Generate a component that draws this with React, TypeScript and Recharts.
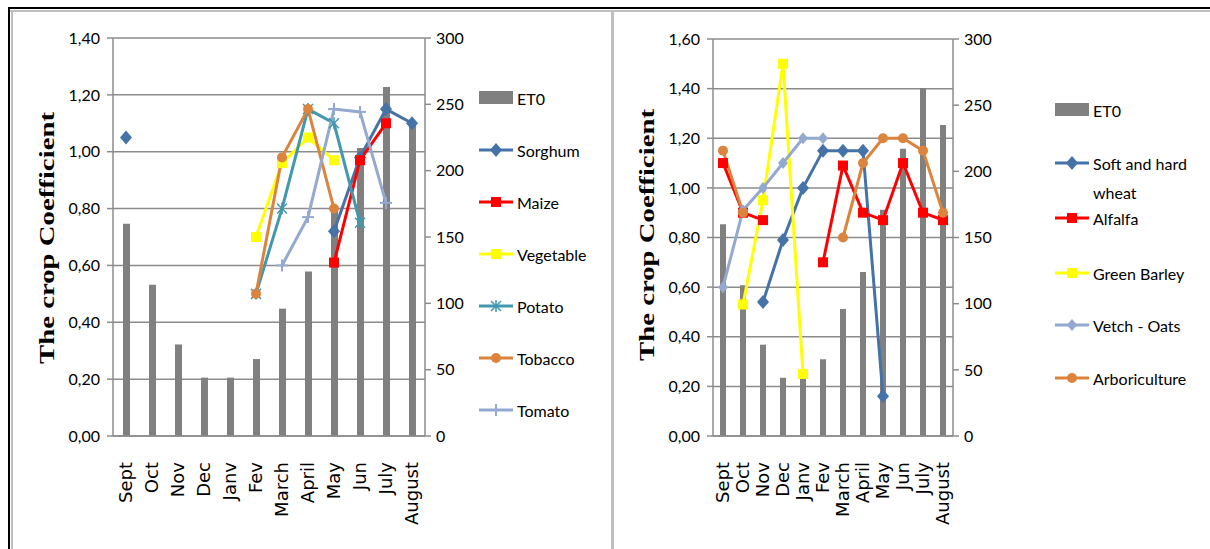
import React from "react";
import { ComposedChart, Bar, Line, XAxis, YAxis, CartesianGrid } from "recharts";

const months = ["Sept", "Oct", "Nov", "Dec", "Janv", "Fev", "March", "April", "May", "Jun", "July", "August"];

// reference evapotranspiration (mm)
const eto = [160, 114, 69, 44, 44, 58, 96, 124, 171, 217, 263, 235];

// crop coefficients, left panel
const sorghum = [1.05, null, null, null, null, null, null, null, 0.72, 0.98, 1.15, 1.1];
const maize = [null, null, null, null, null, null, null, null, 0.61, 0.97, 1.1, null];
const vegetable = [null, null, null, null, null, 0.7, 0.96, 1.05, 0.97, null, null, null];
const potato = [null, null, null, null, null, 0.5, 0.8, 1.15, 1.1, 0.75, null, null];
const tobacco = [null, null, null, null, null, 0.5, 0.98, 1.15, 0.8, null, null, null];
const tomato = [null, null, null, null, null, null, 0.6, 0.77, 1.15, 1.14, 0.82, null];

// crop coefficients, right panel
const wheat = [null, null, 0.54, 0.79, 1.0, 1.15, 1.15, 1.15, 0.16, null, null, null];
const alfalfa = [1.1, 0.9, 0.87, null, null, 0.7, 1.09, 0.9, 0.87, 1.1, 0.9, 0.87];
const greenBarley = [null, 0.53, 0.95, 1.5, 0.25, null, null, null, null, null, null, null];
const vetchOats = [0.6, 0.91, 1.0, 1.1, 1.2, 1.2, null, null, null, null, null, null];
const arboriculture = [1.15, 0.9, null, null, null, null, 0.8, 1.1, 1.2, 1.2, 1.15, 0.9];

const kcTicksLeft = [0, 0.2, 0.4, 0.6, 0.8, 1.0, 1.2, 1.4];
const kcTicksRight = [0, 0.2, 0.4, 0.6, 0.8, 1.0, 1.2, 1.4, 1.6];
const etoTicks = [0, 50, 100, 150, 200, 250, 300];

const SANS = 'Lato, "Liberation Sans", sans-serif';
const GRID = "#8c8c8c";
const BLUE = "#4572A7";
const RED = "#FF0000";
const YELLOW = "#FFFF00";
const TEAL = "#4198AF";
const ORANGE = "#DB843D";
const LIGHT = "#93A9CF";

type Shape = "diamond" | "square" | "asterisk" | "circle" | "plus" | "smallDiamond";

function Marker({ shape, color, cx, cy }: { shape: Shape; color: string; cx: number; cy: number }) {
  switch (shape) {
    case "diamond":
      return <polygon points={`${cx},${cy - 7} ${cx + 6},${cy} ${cx},${cy + 7} ${cx - 6},${cy}`} fill={color} />;
    case "smallDiamond":
      return <polygon points={`${cx},${cy - 6} ${cx + 5},${cy} ${cx},${cy + 6} ${cx - 5},${cy}`} fill={color} />;
    case "square":
      return <rect x={cx - 5} y={cy - 5} width={10} height={10} fill={color} />;
    case "circle":
      return <circle cx={cx} cy={cy} r={5} fill={color} />;
    case "plus":
      return (
        <g stroke={color} strokeWidth={2}>
          <line x1={cx - 6} y1={cy} x2={cx + 6} y2={cy} />
          <line x1={cx} y1={cy - 6} x2={cx} y2={cy + 6} />
        </g>
      );
    case "asterisk":
      return (
        <g stroke={color} strokeWidth={1.5}>
          <line x1={cx - 5} y1={cy - 5} x2={cx + 5} y2={cy + 5} />
          <line x1={cx - 5} y1={cy + 5} x2={cx + 5} y2={cy - 5} />
          <line x1={cx} y1={cy - 6} x2={cx} y2={cy + 6} />
        </g>
      );
  }
}

const makeDot = (shape: Shape, color: string) => (props: any) => {
  const { cx, cy, index, value } = props;
  if (value == null || cy == null || Number.isNaN(cy)) return <g key={index} />;
  return (
    <g key={index}>
      <Marker shape={shape} color={color} cx={cx} cy={cy} />
    </g>
  );
};

const MonthTick = ({ x, y, payload }: any) => (
  <text
    x={x}
    y={y}
    transform={`rotate(-90 ${x} ${y})`}
    textAnchor="end"
    dy="0.36em"
    fontFamily='"DejaVu Sans", sans-serif'
    fontSize={18}
    fill="#000"
  >
    {payload.value}
  </text>
);

const fmtKc = (v: number) => v.toFixed(2).replace(".", ",");

interface SeriesDef {
  name: string;
  key: string;
  values: (number | null)[];
  color: string;
  shape: Shape;
}

const leftSeries: SeriesDef[] = [
  { name: "Sorghum", key: "sorghum", values: sorghum, color: BLUE, shape: "diamond" },
  { name: "Maize", key: "maize", values: maize, color: RED, shape: "square" },
  { name: "Vegetable", key: "vegetable", values: vegetable, color: YELLOW, shape: "square" },
  { name: "Potato", key: "potato", values: potato, color: TEAL, shape: "asterisk" },
  { name: "Tobacco", key: "tobacco", values: tobacco, color: ORANGE, shape: "circle" },
  { name: "Tomato", key: "tomato", values: tomato, color: LIGHT, shape: "plus" },
];

const rightSeries: SeriesDef[] = [
  { name: "Soft and hard wheat", key: "wheat", values: wheat, color: BLUE, shape: "diamond" },
  { name: "Alfalfa", key: "alfalfa", values: alfalfa, color: RED, shape: "square" },
  { name: "Green Barley", key: "greenBarley", values: greenBarley, color: YELLOW, shape: "square" },
  { name: "Vetch - Oats", key: "vetchOats", values: vetchOats, color: LIGHT, shape: "smallDiamond" },
  { name: "Arboriculture", key: "arboriculture", values: arboriculture, color: ORANGE, shape: "circle" },
];

function buildRows(series: SeriesDef[]) {
  return months.map((m, i) => {
    const row: Record<string, any> = { month: m, eto: eto[i] };
    series.forEach((s) => (row[s.key] = s.values[i]));
    return row;
  });
}

interface PanelProps {
  left: number;
  top: number;
  marginRight: number;
  kcMax: number;
  kcTicks: number[];
  barSize: number;
  series: SeriesDef[];
}

function Panel({ left, top, marginRight, kcMax, kcTicks, barSize, series }: PanelProps) {
  return (
    <div style={{ position: "absolute", left, top: 0 }}>
      <ComposedChart
        width={610}
        height={549}
        data={buildRows(series)}
        margin={{ top, right: marginRight, bottom: 0, left: 0 }}
      >
        <CartesianGrid yAxisId="kc" vertical={false} stroke={GRID} strokeWidth={1.5} />
        <XAxis
          dataKey="month"
          height={113}
          tickSize={0}
          tickMargin={26}
          tick={<MonthTick />}
          interval={0}
          axisLine={{ stroke: GRID, strokeWidth: 1.5 }}
        />
        <YAxis
          yAxisId="kc"
          orientation="left"
          width={113}
          domain={[0, kcMax]}
          ticks={kcTicks}
          tickFormatter={fmtKc}
          tickSize={6}
          tickMargin={7}
          axisLine={{ stroke: GRID, strokeWidth: 1.5 }}
          tickLine={{ stroke: GRID, strokeWidth: 1.5 }}
          tick={{ fontFamily: SANS, fontSize: 16, fill: "#000" }}
          interval={0}
        />
        <YAxis
          yAxisId="eto"
          orientation="right"
          width={45}
          domain={[0, 300]}
          ticks={etoTicks}
          tickSize={6}
          tickMargin={5}
          axisLine={{ stroke: GRID, strokeWidth: 1.5 }}
          tickLine={{ stroke: GRID, strokeWidth: 1.5 }}
          tick={{ fontFamily: SANS, fontSize: 16, fill: "#000" }}
          interval={0}
        />
        <Bar yAxisId="eto" dataKey="eto" name="ET0" fill="#808080" barSize={barSize} isAnimationActive={false} />
        {series.map((s) => (
          <Line
            key={s.key}
            yAxisId="kc"
            type="linear"
            dataKey={s.key}
            name={s.name}
            stroke={s.color}
            strokeWidth={3}
            dot={makeDot(s.shape, s.color)}
            activeDot={false}
            isAnimationActive={false}
          />
        ))}
      </ComposedChart>
    </div>
  );
}

interface LegendRow {
  label: string;
  y: number;
  series?: SeriesDef;
}

function LegendBlock({ x, rows }: { x: number; rows: LegendRow[] }) {
  return (
    <>
      {rows.map((r) => {
        const hasIcon = !!r.series || r.label === "ET0";
        return (
          <div
            key={r.label}
            style={{
              position: "absolute",
              left: x,
              top: r.y - 11,
              height: 22,
              display: "flex",
              alignItems: "center",
              fontFamily: SANS,
              fontSize: 16,
              color: "#000",
              whiteSpace: "nowrap",
            }}
          >
            {hasIcon && (
              <svg width={38} height={22} style={{ display: "block" }}>
                {!r.series && <rect x={0} y={4} width={34} height={13} fill="#808080" />}
                {r.series && (
                  <>
                    <line x1={0} y1={11} x2={34} y2={11} stroke={r.series.color} strokeWidth={3} />
                    <Marker shape={r.series.shape} color={r.series.color} cx={17} cy={11} />
                  </>
                )}
              </svg>
            )}
            <span style={{ marginLeft: hasIcon ? 0 : 38 }}>{r.label}</span>
          </div>
        );
      })}
    </>
  );
}

export default function App() {
  const leftRows: LegendRow[] = [
    { label: "ET0", y: 98 },
    ...leftSeries.map((s, i) => ({ label: s.name, y: 150 + i * 52, series: s })),
  ];
  const rightRows: LegendRow[] = [
    { label: "ET0", y: 110 },
    { label: "Soft and hard", y: 163, series: rightSeries[0] },
    { label: "wheat", y: 192 },
    { label: "Alfalfa", y: 218, series: rightSeries[1] },
    { label: "Green Barley", y: 273, series: rightSeries[2] },
    { label: "Vetch - Oats", y: 325, series: rightSeries[3] },
    { label: "Arboriculture", y: 378, series: rightSeries[4] },
  ];

  return (
    <div style={{ position: "absolute", left: 0, top: 0, width: 1210, height: 549, background: "#fff", overflow: "hidden" }}>
      {/* frame lines */}
      <div style={{ position: "absolute", left: 8, top: 7, width: 1202, height: 2, background: "#000" }} />
      <div style={{ position: "absolute", left: 8, top: 7, width: 2, height: 542, background: "#000" }} />
      <div style={{ position: "absolute", left: 10, top: 10, width: 1200, height: 2, background: "#bfbfbf" }} />
      <div style={{ position: "absolute", left: 11, top: 10, width: 2, height: 539, background: "#bfbfbf" }} />
      <div style={{ position: "absolute", left: 611, top: 10, width: 3, height: 539, background: "#bfbfbf" }} />

      <Panel left={0} top={38} marginRight={140} kcMax={1.4} kcTicks={kcTicksLeft} barSize={7} series={leftSeries} />
      <Panel left={600} top={39} marginRight={212} kcMax={1.6} kcTicks={kcTicksRight} barSize={6} series={rightSeries} />

      <LegendBlock x={479} rows={leftRows} />
      <LegendBlock x={1055} rows={rightRows} />

      <svg width={1210} height={549} style={{ position: "absolute", left: 0, top: 0, pointerEvents: "none" }}>
        {[
          { x: 54, y: 238 },
          { x: 654, y: 235 },
        ].map((t) => (
          <text
            key={t.x}
            x={t.x}
            y={t.y}
            transform={`rotate(-90 ${t.x} ${t.y})`}
            textAnchor="middle"
            fontFamily='"Liberation Serif", "Times New Roman", serif'
            fontWeight="bold"
            fontSize={21}
            textLength={252}
            lengthAdjust="spacingAndGlyphs"
            fill="#000"
          >
            The crop Coefficient
          </text>
        ))}
      </svg>
    </div>
  );
}
